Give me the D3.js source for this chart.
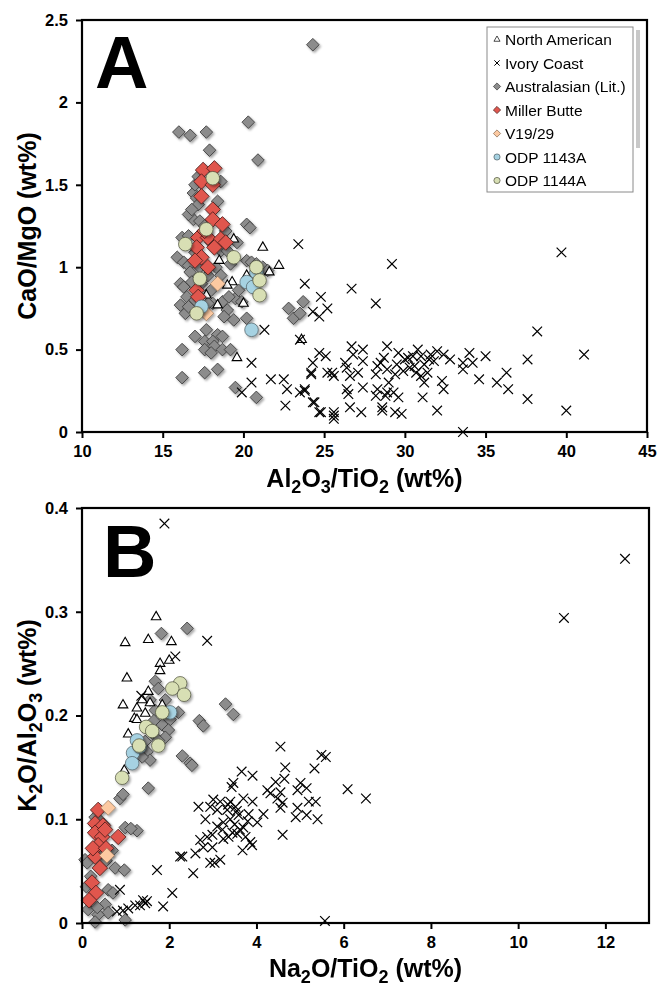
<!DOCTYPE html>
<html>
<head>
<meta charset="utf-8">
<script src="https://cdn.jsdelivr.net/npm/d3@7"></script>
<style>
  body { margin: 0; background: #fff; }
  text { font-family: "Liberation Sans", Arial, sans-serif; }
  .tick text { font-weight: bold; font-size: 16.5px; fill: #000; }
  .tick line, .domain { stroke: #000; stroke-width: 2px; }
  .title { font-weight: bold; font-size: 25px; }
  .letter { font-weight: bold; font-size: 74px; }
  .legend text { font-size: 15.5px; }
</style>
</head>
<body>
<div class="container"></div>
<script>
const WIDTH = 658;
const HEIGHT = 987;

// ---- panel A : CaO/MgO vs Al2O3/TiO2 ----
var northAmericanA = [[19.4,1.17],[21.2,1.12],[22.2,1.01],[18.5,1.04],[19.3,0.91],[19.0,0.89],[20.2,0.95],[21.6,0.97],
  [20.0,0.78],[17.7,0.83],[18.4,0.77],[19.6,0.45],[23.6,0.56]];
var ivoryCoastA = [[23.4,1.14],[29.2,1.02],[39.7,1.09],[26.7,0.87],[28.2,0.78],[23.8,0.90],[24.8,0.82],[24.3,0.73],
  [24.7,0.70],[25.2,0.75],[38.2,0.61],[23.5,0.56],[21.3,0.62],[41.1,0.47],[37.6,0.44],[37.6,0.20],[40.0,0.13],
  [33.6,0.00],[32.0,0.13],[31.1,0.21],[35.0,0.46],[34.0,0.48],[34.2,0.42],[33.6,0.42],[33.6,0.38],[34.6,0.32],
  [35.7,0.30],[36.3,0.36],[36.4,0.26],[32.4,0.47],[32.3,0.31],[32.4,0.26],[32.0,0.49],[31.6,0.47],[31.0,0.46],
  [30.5,0.46],[31.2,0.41],[30.6,0.40],[31.4,0.36],[31.0,0.34],[31.2,0.30],[30.3,0.39],[29.9,0.37],[29.6,0.48],
  [28.9,0.52],[29.5,0.41],[29.4,0.35],[28.9,0.38],[28.5,0.42],[28.3,0.40],[28.2,0.35],[28.3,0.26],[28.8,0.22],
  [28.9,0.24],[29.6,0.21],[29.4,0.12],[29.8,0.11],[28.6,0.13],[28.6,0.15],[28.2,0.22],[29.3,0.24],[30.0,0.44],
  [30.8,0.50],[31.8,0.43],[30.2,0.45],[29.0,0.30],[28.7,0.45],[32.8,0.44],[31.5,0.44],[30.7,0.36],
  [27.4,0.50],[27.4,0.43],[26.7,0.52],[26.8,0.47],[26.3,0.42],[26.4,0.39],[27.1,0.36],[26.6,0.34],[27.4,0.27],
  [26.4,0.26],[26.5,0.23],[26.6,0.15],[27.3,0.12],[25.5,0.36],[25.6,0.34],[25.2,0.36],[25.6,0.12],[25.6,0.08],
  [24.8,0.12],[24.3,0.18],[23.8,0.26],[24.2,0.36],[24.3,0.42],[24.7,0.48],[25.1,0.46],[24.2,0.35],
  [20.5,0.42],[20.5,0.30],[19.9,0.24],[21.7,0.32],[22.5,0.32],[22.7,0.26],[22.6,0.16],[23.5,0.24],[23.8,0.25],
  [24.4,0.18],[24.7,0.12],[25.6,0.10]];
var australasianA = [[24.3,2.35],[16.0,1.82],[16.7,1.80],[17.7,1.82],[20.3,1.88],[17.9,1.71],[20.9,1.65],
  [16.9,1.45],[17.1,1.42],[17.2,1.38],[18.4,1.40],[16.9,1.29],[17.3,1.28],[16.6,1.32],[20.2,1.26],[20.4,1.24],
  [16.2,1.18],[16.6,1.19],[19.6,1.15],[18.9,1.22],[15.9,1.06],[16.3,1.03],[16.6,1.01],[16.7,0.97],[17.0,1.09],
  [16.1,0.90],[16.3,0.88],[16.8,0.91],[16.1,0.77],[16.4,0.72],[18.1,0.78],[18.7,0.79],[19.0,0.74],[19.5,0.81],
  [19.9,0.79],[19.7,0.86],[20.2,1.04],[20.5,1.03],[20.8,1.02],[21.2,1.00],[21.5,0.98],[23.7,0.79],[22.8,0.75],
  [23.1,0.69],[23.5,0.72],[19.4,0.68],[20.2,0.69],[17.7,0.62],[17.0,0.58],[18.4,0.59],[18.7,0.58],[17.6,0.55],
  [18.1,0.55],[16.2,0.50],[17.6,0.50],[18.2,0.52],[18.7,0.50],[19.2,0.50],[18.0,0.48],[16.2,0.33],[17.6,0.36],
  [18.4,0.38],[19.5,0.27],[20.8,0.21],[17.0,1.50],[17.2,1.55],[18.6,1.52],[16.8,1.35],[17.6,1.25],[18.0,1.15],
  [18.6,1.10],[17.3,1.00],[17.8,0.95],[18.3,1.00],[18.6,0.95],[17.4,0.90],[18.0,0.86],[16.5,0.82],[17.0,0.80],
  [17.8,0.78],[16.6,0.76],[17.3,0.74],[19.1,0.82],[18.8,0.70],[19.0,1.10],[19.2,1.02]];
var millerButteA = [[17.5,1.59],[18.2,1.60],[17.4,1.52],[18.1,1.50],[17.4,1.43],[18.1,1.35],[18.1,1.29],[18.7,1.26],
  [17.2,1.18],[17.8,1.18],[18.6,1.17],[18.2,1.12],[17.1,1.12],[17.4,1.06],[17.0,1.04],[17.8,1.00],[17.1,0.86],
  [17.2,0.82],[17.6,1.22],[18.9,1.15]];
var v1929A = [[18.4,0.90],[17.7,0.72]];
var odp1143A_A = [[17.4,0.76],[20.2,0.91],[20.6,0.88],[20.5,0.62],[20.8,0.97]];
var odp1144A_A = [[18.1,1.54],[17.7,1.23],[16.4,1.14],[19.4,1.06],[20.8,1.00],[21.0,0.92],[21.0,0.83],[17.3,0.93],[17.1,0.72]];

// ---- panel B : K2O/Al2O3 vs Na2O/TiO2 ----
var northAmericanB = [[1.70,0.295],[0.99,0.270],[1.52,0.273],[2.05,0.271],[1.79,0.250],[2.0,0.253],[1.79,0.243],
  [1.03,0.236],[1.52,0.223],[0.94,0.210],[1.26,0.207],[1.45,0.202],[1.2,0.197],[1.26,0.196],[1.06,0.182],
  [1.56,0.212],[1.84,0.210],[0.97,0.147],[1.38,0.215]];
var ivoryCoastB = [[2.87,0.272],[2.14,0.257],[1.36,0.219],[1.89,0.385],[11.05,0.294],[12.45,0.351],[5.57,0.002],
  [4.55,0.170],[5.49,0.162],[5.59,0.160],[5.33,0.149],[3.66,0.146],[3.91,0.142],[4.64,0.139],[4.66,0.150],
  [4.44,0.136],[5.01,0.135],[5.15,0.130],[4.94,0.128],[6.09,0.129],[6.51,0.120],[3.47,0.135],[3.43,0.131],
  [4.25,0.128],[4.32,0.125],[4.55,0.126],[4.48,0.120],[4.60,0.116],[4.55,0.111],[5.20,0.117],[5.36,0.117],
  [4.94,0.111],[4.90,0.102],[5.15,0.104],[5.40,0.100],[4.60,0.085],[4.16,0.105],[4.02,0.097],[3.82,0.105],
  [3.91,0.117],[3.70,0.120],[3.40,0.117],[3.52,0.112],[3.33,0.109],[3.17,0.117],[3.01,0.119],[2.94,0.112],
  [3.10,0.109],[2.67,0.112],[2.83,0.100],[3.24,0.097],[3.40,0.100],[3.59,0.104],[3.70,0.092],[3.62,0.090],
  [3.56,0.086],[3.45,0.087],[3.22,0.090],[3.10,0.093],[2.99,0.085],[2.87,0.083],[2.71,0.080],[2.78,0.073],
  [2.99,0.073],[3.24,0.081],[3.36,0.083],[3.68,0.070],[3.86,0.078],[3.90,0.075],[2.60,0.067],[2.30,0.064],
  [2.94,0.058],[3.04,0.058],[3.17,0.061],[2.55,0.048],[3.75,0.083],[3.50,0.095],[3.55,0.108],[3.35,0.114],
  [3.80,0.098],[1.72,0.051],[2.25,0.064],[2.07,0.029],[1.86,0.016],[1.49,0.021],[1.45,0.019],[1.22,0.017],
  [0.87,0.032],[0.94,0.012],[0.80,0.011],[1.06,0.014],[1.33,0.017],[1.40,0.022]];
var australasianB = [[2.41,0.284],[1.82,0.279],[1.68,0.233],[1.75,0.226],[2.21,0.203],[3.29,0.211],[3.47,0.201],
  [2.69,0.195],[2.78,0.190],[2.30,0.161],[2.48,0.154],[2.52,0.152],[1.52,0.130],[0.87,0.120],[0.94,0.124],
  [0.99,0.092],[1.26,0.089],[1.12,0.091],[0.76,0.053],[0.97,0.051],[0.30,0.102],[0.38,0.100],[0.69,0.070],
  [0.07,0.061],[0.12,0.058],[0.60,0.032],[0.71,0.029],[0.53,0.018],[0.60,0.010],[0.37,0.008],[0.30,0.001],
  [0.99,0.003],[0.14,0.013],[1.56,0.215],[1.91,0.215],[1.68,0.205],[1.91,0.203],[2.02,0.196],[1.84,0.191],
  [1.98,0.186],[1.91,0.179],[1.61,0.183],[1.49,0.165],[1.56,0.157],[1.38,0.160],[1.75,0.176],[1.45,0.175],
  [1.65,0.195],[0.55,0.060],[0.45,0.068],[0.20,0.045],[0.10,0.035],[0.35,0.015],[0.50,0.095]];
var millerButteB = [[0.37,0.109],[0.30,0.096],[0.48,0.094],[0.30,0.087],[0.46,0.083],[0.37,0.075],[0.83,0.083],
  [0.30,0.064],[0.41,0.053],[0.23,0.039],[0.32,0.029],[0.16,0.022],[0.25,0.072],[0.53,0.090],[0.55,0.072]];
var v1929B = [[0.60,0.111],[0.57,0.065]];
var odp1143A_B = [[1.26,0.176],[1.17,0.164],[1.15,0.154],[2.02,0.203],[1.32,0.170]];
var odp1144A_B = [[2.25,0.231],[2.07,0.226],[2.34,0.220],[1.84,0.203],[1.47,0.189],[1.61,0.185],[1.31,0.171],
  [1.75,0.171],[0.92,0.140]];

var legendNames = ["North American", "Ivory Coast", "Australasian (Lit.)", "Miller Butte", "V19/29", "ODP 1143A", "ODP 1144A"];
var xTicksA = [10, 15, 20, 25, 30, 35, 40, 45];
var yTicksA = [0, 0.5, 1, 1.5, 2, 2.5];
var xTicksB = [0, 2, 4, 6, 8, 10, 12];
var yTicksB = [0, 0.1, 0.2, 0.3, 0.4];

// marker styles, one per legend entry
var styles = [
  {type: d3.symbolTriangle, size: 40, fill: "#fff", stroke: "#000", sw: 1.1, shadow: false, legendSize: 16},
  {type: d3.symbolX, size: 62, fill: "none", stroke: "#000", sw: 1.2, shadow: false, legendSize: 20},
  {type: d3.symbolSquare, size: 80, fill: "#8c8c8c", stroke: "#3a3a3a", sw: 0.8, shadow: true, rotate: 45, legendSize: 26},
  {type: d3.symbolSquare, size: 120, fill: "#e0564e", stroke: "#4a1c1a", sw: 0.8, shadow: true, rotate: 45, legendSize: 26},
  {type: d3.symbolSquare, size: 112, fill: "#fcc9a1", stroke: "#8a6a50", sw: 0.6, shadow: true, rotate: 45, legendSize: 26},
  {type: d3.symbolCircle, size: 145, fill: "#a6d2e2", stroke: "#4a5a60", sw: 0.7, shadow: true, legendSize: 30},
  {type: d3.symbolCircle, size: 145, fill: "#d8dfb4", stroke: "#4a4e3a", sw: 0.7, shadow: true, legendSize: 30}
];
// drawing order: Australasian under the others
var drawOrder = [2, 0, 1, 3, 4, 5, 6];

var translate = function(x, y) {
  return `translate(${x},${y})`;
};

var svg = d3.select('.container').append('svg')
  .attr('width', WIDTH)
  .attr('height', HEIGHT);

var defs = svg.append('defs');
var filt = defs.append('filter').attr('id', 'shadow')
  .attr('x', '-50%').attr('y', '-50%').attr('width', '200%').attr('height', '200%');
filt.append('feDropShadow').attr('dx', 1.6).attr('dy', 1.8).attr('stdDeviation', 1.3)
  .attr('flood-color', '#000').attr('flood-opacity', 0.35);

var drawPoints = function(g, xScale, yScale, data, st) {
  var sym = d3.symbol().type(st.type).size(st.size);
  var grp = g.append('g');
  if (st.shadow) grp.attr('filter', 'url(#shadow)');
  grp.selectAll('path').data(data).enter()
    .append('path')
    .attr('d', sym)
    .attr('transform', d => translate(xScale(d[0]), yScale(d[1])) + (st.rotate ? ` rotate(${st.rotate})` : ''))
    .attr('fill', st.fill)
    .attr('stroke', st.stroke)
    .attr('stroke-width', st.sw);
};

var addTitle = function(t, parts) {
  // parts: [text, isSub, followsSub]
  parts.forEach(function(part) {
    t.append('tspan').attr('font-size', part[1] ? 18 : null)
      .attr('dy', part[1] ? 6 : (part[2] ? -6 : null)).text(part[0]);
  });
};

var drawPanel = function(p) {
  var xScale = d3.scaleLinear().domain(p.xDomain).range([p.left, p.right]);
  var yScale = d3.scaleLinear().domain(p.yDomain).range([p.bottom, p.top]);

  svg.append('g')
    .attr('transform', translate(0, p.bottom))
    .call(d3.axisBottom(xScale).tickValues(p.xTicks).tickFormat(d => String(d))
      .tickSize(6).tickSizeOuter(0).tickPadding(7))
    .call(g => g.select('.domain').remove());
  svg.append('g')
    .attr('transform', translate(p.left, 0))
    .call(d3.axisLeft(yScale).tickValues(p.yTicks).tickFormat(d => String(d))
      .tickSize(6).tickSizeOuter(0).tickPadding(8))
    .call(g => g.select('.domain').remove());

  var g = svg.append('g');
  drawOrder.forEach(function(i) {
    drawPoints(g, xScale, yScale, p.series[i], styles[i]);
  });

  svg.append('rect')
    .attr('x', p.left).attr('y', p.top)
    .attr('width', p.right - p.left).attr('height', p.bottom - p.top)
    .attr('fill', 'none').attr('stroke', '#000').attr('stroke-width', 2.2);

  svg.append('text').attr('class', 'letter')
    .attr('x', p.letterX).attr('y', p.letterY).text(p.letter);

  var xt = svg.append('text').attr('class', 'title')
    .attr('x', (p.left + p.right) / 2).attr('y', p.xTitleY)
    .attr('text-anchor', 'middle');
  addTitle(xt, p.xTitle);
  var yt = svg.append('text').attr('class', 'title')
    .attr('transform', translate(p.yTitleX, (p.top + p.bottom) / 2) + ' rotate(-90)')
    .attr('text-anchor', 'middle');
  addTitle(yt, p.yTitle);
};

drawPanel({
  left: 82, right: 647, top: 20, bottom: 432,
  xDomain: [10, 45], yDomain: [0, 2.5], xTicks: xTicksA, yTicks: yTicksA,
  series: [northAmericanA, ivoryCoastA, australasianA, millerButteA, v1929A, odp1143A_A, odp1144A_A],
  letter: "A", letterX: 95, letterY: 88,
  xTitle: [["Al"], ["2", true], ["O", false, true], ["3", true], ["/TiO", false, true], ["2", true], [" (wt%)", false, true]],
  xTitleY: 487,
  yTitle: [["CaO/MgO (wt%)"]], yTitleX: 36
});
drawPanel({
  left: 82, right: 649, top: 508, bottom: 923,
  xDomain: [0, 13], yDomain: [0, 0.4], xTicks: xTicksB, yTicks: yTicksB,
  series: [northAmericanB, ivoryCoastB, australasianB, millerButteB, v1929B, odp1143A_B, odp1144A_B],
  letter: "B", letterX: 103, letterY: 577,
  xTitle: [["Na"], ["2", true], ["O/TiO", false, true], ["2", true], [" (wt%)", false, true]],
  xTitleY: 977,
  yTitle: [["K"], ["2", true], ["O/Al", false, true], ["2", true], ["O", false, true], ["3", true], [" (wt%)", false, true]],
  yTitleX: 36
});

// legend (panel A)
var lg = svg.append('g').attr('class', 'legend');
lg.append('rect').attr('x', 636).attr('y', 30).attr('width', 4).attr('height', 118).attr('fill', '#c8c8c8');
lg.append('rect').attr('x', 487).attr('y', 27).attr('width', 146).attr('height', 165)
  .attr('fill', '#fff').attr('stroke', '#8a8a8a').attr('stroke-width', 1);
legendNames.forEach(function(name, i) {
  var y = 39.5 + i * 23.5;
  var st = styles[i];
  lg.append('path')
    .attr('d', d3.symbol().type(st.type).size(st.legendSize))
    .attr('transform', translate(497, y) + (st.rotate ? ' rotate(45)' : ''))
    .attr('fill', st.fill).attr('stroke', st.stroke).attr('stroke-width', st.type === d3.symbolX ? 1 : 0.7);
  lg.append('text').attr('x', 505).attr('y', y + 5.5).text(name);
});
</script>
</body>
</html>
